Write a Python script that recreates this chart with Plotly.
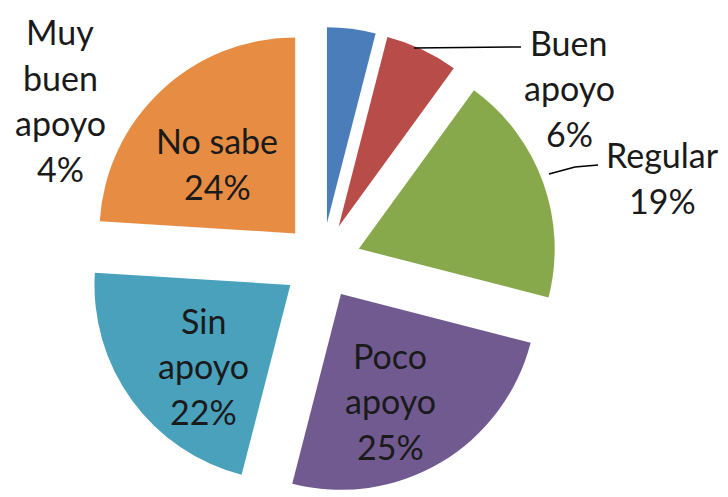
import plotly.graph_objects as go

labels = ["Muy buen apoyo", "Buen apoyo", "Regular", "Poco apoyo", "Sin apoyo", "No sabe"]
values = [4, 6, 19, 25, 22, 24]
colors = ["#4A7DBA", "#B84C49", "#87A84B", "#715A90", "#49A1BB", "#E68D43"]
pulls = [0.2, 0.2, 0.2, 0.19, 0.2, 0.2]

# label text split into lines, and where each label block sits (pixels)
label_lines = [["Muy", "buen", "apoyo"], ["Buen", "apoyo"], ["Regular"],
               ["Poco", "apoyo"], ["Sin", "apoyo"], ["No sabe"]]
label_x = [60, 569, 662, 390, 203, 217]
label_y0 = [32, 42, 155, 355, 320, 141]   # first line centre
LINE = 45.5

W, H = 728, 497
FONT = "Lato"
FS = 34
CX, CY, HALF = 322, 262, 235

fig = go.Figure(go.Pie(
    labels=labels, values=values, sort=False, direction="clockwise", rotation=0,
    marker=dict(colors=colors, line=dict(width=0)),
    pull=pulls, textinfo="none", hoverinfo="label+percent",
    domain=dict(x=[(CX - HALF) / W, (CX + HALF) / W],
                y=[1 - min(CY + HALF, H) / H, 1 - (CY - HALF) / H]),
    showlegend=False,
))

total = sum(values)
annotations = []
for lines, v, px, py in zip(label_lines, values, label_x, label_y0):
    all_lines = lines + [f"{round(100 * v / total)}%"]
    for i, ln in enumerate(all_lines):
        y = py + i * LINE
        annotations.append(dict(
            x=px / W, y=1 - y / H, xref="paper", yref="paper",
            text=ln, showarrow=False, xanchor="center", yanchor="middle",
            font=dict(family=FONT, size=FS, color="#1a1a1a"),
        ))

def P(px, py):
    return px / W, 1 - py / H

shapes = []
for pts in [[(414, 48), (521, 47)], [(549, 174), (575, 167), (598, 165)]]:
    for (a, b) in zip(pts[:-1], pts[1:]):
        x0, y0 = P(*a)
        x1, y1 = P(*b)
        shapes.append(dict(type="line", xref="paper", yref="paper",
                           x0=x0, y0=y0, x1=x1, y1=y1,
                           line=dict(color="black", width=1.5)))

fig.update_layout(
    width=W, height=H, margin=dict(l=0, r=0, t=0, b=0),
    paper_bgcolor="white", plot_bgcolor="white",
    annotations=annotations, shapes=shapes,
)

fig.write_html("out.html", config={"displayModeBar": False},
               post_script="document.body.style.margin='0';")
